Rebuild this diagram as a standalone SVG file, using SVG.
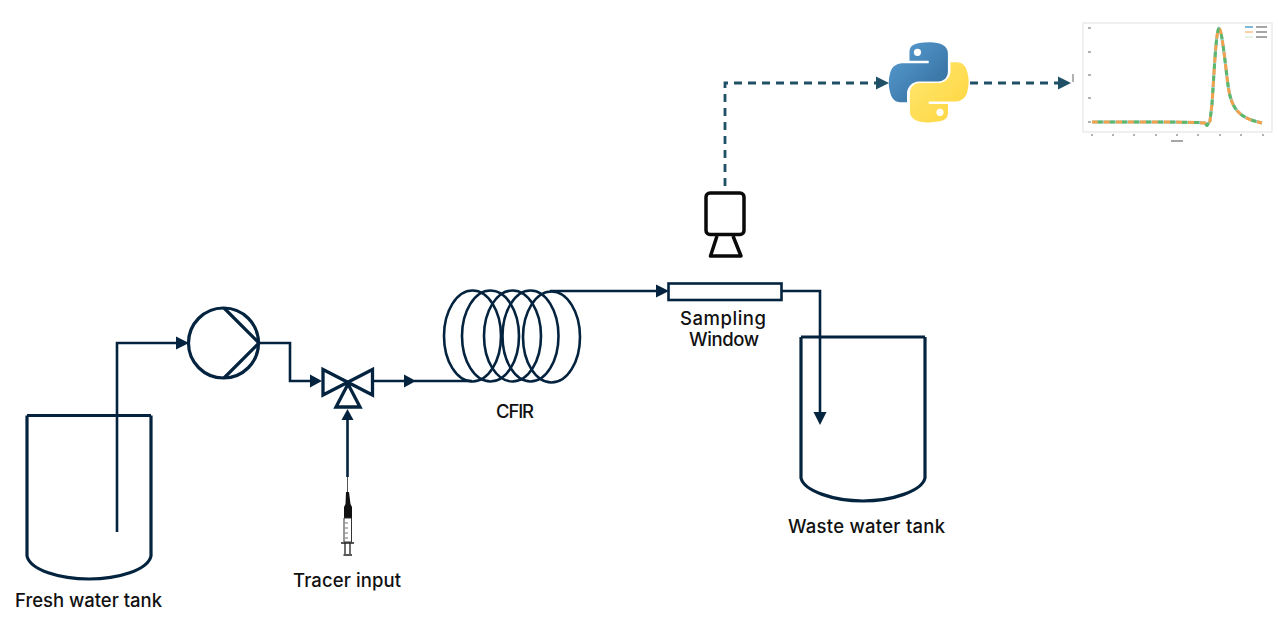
<svg xmlns="http://www.w3.org/2000/svg" width="1278" height="630" viewBox="0 0 1278 630">
<defs>
<style>
.l{fill:none;stroke:#04233f;stroke-width:2.6}
.v{fill:none;stroke:#04233f;stroke-width:3.2;stroke-linejoin:round}
.t{font-family:"Inter","Liberation Sans",sans-serif;font-size:18.500px;font-weight:500;fill:#111;text-anchor:start}
.d{fill:none;stroke:#1f5068;stroke-width:2.800;stroke-dasharray:8 6}
.h{fill:#04233f}
.k{fill:#1f5068}
.c{fill:none;stroke-width:3;stroke-linejoin:round}
</style>
<linearGradient id="b" x1="0" y1="0" x2="1" y2="1"><stop offset="0" stop-color="#5a9fd4"/><stop offset="1" stop-color="#306998"/></linearGradient>
<linearGradient id="y" x1="0" y1="0" x2="1" y2="1"><stop offset="0" stop-color="#ffe873"/><stop offset="1" stop-color="#ffd43b"/></linearGradient>
<filter id="bl" x="-5%" y="-5%" width="110%" height="110%"><feGaussianBlur stdDeviation="0.7"/></filter>
<path id="curve" d="M1092 122C1110 122 1130 122 1150 122S1195 122 1205 123L1207 125.500L1210 121L1212 104C1214 75 1216 30 1219 28C1222 30 1225 62 1228 85C1231 108 1238 118 1262 123"/>
</defs>
<rect width="1278" height="630" fill="#fff"/>
<g id="connectors">
<path class="l" d="M117 532V343H180"/>
<path class="h" d="M189 343l-13-6.500v13z"/>
<path class="l" d="M259 343H290V381H314"/>
<path class="h" d="M322 381l-12-6.500v13z"/>
<path class="l" d="M373 381H405M414 381H472"/>
<path class="h" d="M416 381l-12-6.500v13z"/>
<path class="l" d="M347.500 477V418"/>
<path class="h" d="M347.500 409l-6 11h12z"/>
<path class="l" d="M550 291H660"/>
<path class="h" d="M669 291l-13-6.500v13z"/>
<path class="l" d="M782 291H820V414"/>
<path class="h" d="M820 425l-6.500-13h13z"/>
<path class="d" d="M725 186V83H878"/>
<path class="k" d="M889 83l-13-6.500v13z"/>
<path class="d" d="M970 83H1060"/>
<path class="k" d="M1071 83l-13-6.500v13z"/>
</g>
<g id="fresh-tank"><path class="v" d="M27 415.500H151M27 415.500V556C30 570 60 579 89 579S148 570 151 556V415.500"/><text class="t" x="15" y="606.500" textLength="147">Fresh water tank</text></g>
<g id="waste-tank"><path class="v" d="M801 337H925M801 337V478C804 491 834 501 863 501S922 491 925 478V337"/><text class="t" x="788" y="533" textLength="157">Waste water tank</text></g>
<g id="pump"><circle cx="223.500" cy="343" r="35" fill="none" stroke="#04233f" stroke-width="3.200"/><path class="v" d="M224 308L259 343L224 378"/></g>
<g id="valve"><path d="M323 369.500V395L372.500 369.500V395ZM348 384L336 407H360Z" fill="#fff" stroke="#04233f" stroke-width="3.300" stroke-linejoin="miter"/></g>
<g id="syringe">
<path d="M347.500 477V494" stroke="#555" stroke-width="1" fill="none"/>
<path d="M346 492h3l1.500 12 1.500 3v11h-8v-11l1.500-3z" fill="#111"/>
<path d="M344 518h7.500v24h-7.500z" fill="#fff" stroke="#333" stroke-width="1"/>
<path d="M345 523h3M345 528h3M345 533h3M345 538h3" stroke="#333" stroke-width="0.700"/>
<path d="M341 543h13M345 543v11M350 543v11M343.500 555h8.500" stroke="#222" stroke-width="1.300" fill="none"/>
<text class="t" x="293" y="587" textLength="108">Tracer input</text>
</g>
<g id="cfir">
<ellipse class="l" cx="472.500" cy="336" rx="28.500" ry="45.500"/>
<ellipse class="l" cx="490.500" cy="336" rx="28.500" ry="45.500"/>
<ellipse class="l" cx="512.500" cy="336" rx="28.500" ry="45.500"/>
<ellipse class="l" cx="530.500" cy="336" rx="28" ry="45.500"/>
<ellipse class="l" cx="551.500" cy="337" rx="28.500" ry="45.500"/>
<text class="t" x="496" y="418" textLength="38">CFIR</text>
</g>
<g id="sampling-window"><rect class="l" x="668.500" y="283.500" width="113" height="16.500" fill="#fff"/><text class="t" x="680" y="325" textLength="86">Sampling</text><text class="t" x="689" y="346" textLength="70">Window</text></g>
<g id="camera"><rect x="706" y="193" width="38" height="41.500" rx="4" fill="#fff" stroke="#0a0a0a" stroke-width="3.500"/><path d="M717 236L710.500 256H741L733 236" fill="none" stroke="#0a0a0a" stroke-width="3.500" stroke-linejoin="round"/></g>
<g id="python" transform="translate(888.300 41.500) scale(0.735)">
<path fill="url(#b)" d="M54.900 0.900c-4.600 0-8.900 0.400-12.800 1.100C30.800 4 28.800 8.200 28.800 15.900v10.200h26.200v3.400H18.900c-7.600 0-14.300 4.600-16.400 13.300-2.400 10-2.500 16.200 0 26.600 1.900 7.800 6.300 13.300 13.900 13.300h9v-12c0-8.700 7.500-16.300 16.400-16.300h26.200c7.300 0 13.100-6 13.100-13.300V15.900c0-7.100-6-12.400-13.100-13.600C63.500 1.500 59.500 0.900 54.900 0.900z"/>
<circle cx="39.700" cy="14.700" r="4.900" fill="#fff"/>
<path fill="url(#y)" d="M55.100 110.100c4.600 0 8.900-0.400 12.800-1.100 11.300-2 13.300-6.200 13.300-13.900V84.900H55v-3.400h36.100c7.600 0 14.300-4.600 16.400-13.300 2.400-10 2.500-16.200 0-26.600-1.900-7.800-6.300-13.300-13.900-13.300h-9v12c0 8.700-7.500 16.300-16.400 16.300H42.500c-7.300 0-13.100 6-13.100 13.300v25.200c0 7.100 6 12.400 13.100 13.600 4 0.800 8 1.400 12.600 1.400z"/>
<circle cx="70.300" cy="96.300" r="4.900" fill="#fff"/>
</g>
<g id="chart" filter="url(#bl)">
<rect x="1083" y="23" width="189" height="109" fill="#fff" stroke="#e6e6e6" stroke-width="1.200"/>
<path d="M1088 122H1091M1088 98H1091M1088 75H1091M1088 52H1091M1088 28H1091M1092 134v2M1113 134v2M1134 134v2M1156 134v2M1177 134v2M1198 134v2M1220 134v2M1241 134v2M1263 134v2" stroke="#666" stroke-width="1"/>
<path d="M1171 141h12" stroke="#888" stroke-width="1.500"/>
<path d="M1073 74v8" stroke="#999" stroke-width="1.500"/>
<path d="M1245 27h8" stroke="#5a9fd0" stroke-width="1.500"/><path d="M1245 32h8" stroke="#f7c18a" stroke-width="1.500"/><path d="M1245 37h8" stroke="#e0efe0" stroke-width="1.500"/>
<path d="M1256 27h11M1256 32h11M1256 37h11" stroke="#888" stroke-width="1.300"/>
<use href="#curve" class="c" stroke="#8fd0c8"/>
<use href="#curve" class="c" stroke="#f2a14e" stroke-dasharray="6 6"/>
<use href="#curve" class="c" stroke="#5fb56a" stroke-dasharray="5 7" stroke-dashoffset="6"/>
</g>
</svg>
